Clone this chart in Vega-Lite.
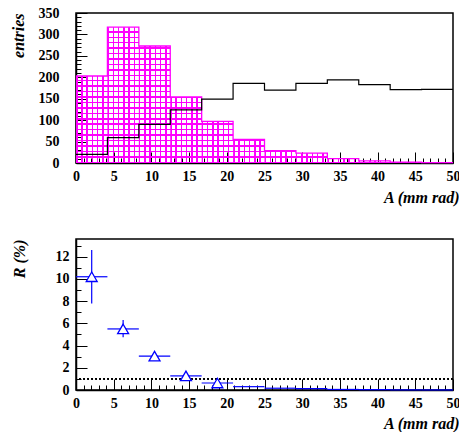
{
  "$schema": "https://vega.github.io/schema/vega-lite/v6.json",
  "background": "white",
  "padding": {"left": 9, "top": 5, "right": 0, "bottom": 0},
  "datasets": {
    "bins": [
      {"x0": 0, "x1": 4.1667, "xc": 2.0833, "sig": 203, "bg": 20, "R": 10.2, "Rlo": 7.8, "Rhi": 12.6},
      {"x0": 4.1667, "x1": 8.3333, "xc": 6.25, "sig": 317, "bg": 59, "R": 5.5, "Rlo": 4.75, "Rhi": 6.3},
      {"x0": 8.3333, "x1": 12.5, "xc": 10.4167, "sig": 273, "bg": 90, "R": 3.05, "Rlo": 2.7, "Rhi": 3.4},
      {"x0": 12.5, "x1": 16.6667, "xc": 14.5833, "sig": 154, "bg": 124, "R": 1.27, "Rlo": 1.1, "Rhi": 1.45},
      {"x0": 16.6667, "x1": 20.8333, "xc": 18.75, "sig": 97, "bg": 149, "R": 0.63, "Rlo": 0.54, "Rhi": 0.72},
      {"x0": 20.8333, "x1": 25, "xc": 22.9167, "sig": 55, "bg": 186, "R": 0.3, "Rlo": 0.26, "Rhi": 0.34},
      {"x0": 25, "x1": 29.1667, "xc": 27.0833, "sig": 29, "bg": 170, "R": 0.16, "Rlo": 0.13, "Rhi": 0.19},
      {"x0": 29.1667, "x1": 33.3333, "xc": 31.25, "sig": 23, "bg": 186, "R": 0.13, "Rlo": 0.1, "Rhi": 0.16},
      {"x0": 33.3333, "x1": 37.5, "xc": 35.4167, "sig": 10, "bg": 194, "R": 0.05, "Rlo": 0.03, "Rhi": 0.07},
      {"x0": 37.5, "x1": 41.6667, "xc": 39.5833, "sig": 5, "bg": 183, "R": 0.03, "Rlo": 0.02, "Rhi": 0.04},
      {"x0": 41.6667, "x1": 45.8333, "xc": 43.75, "sig": 2, "bg": 171, "R": 0.01, "Rlo": 0.0, "Rhi": 0.02},
      {"x0": 45.8333, "x1": 50, "xc": 47.9167, "sig": 1, "bg": 172, "R": 0.006, "Rlo": 0.0, "Rhi": 0.012}
    ]
  },
  "config": {
    "view": {"stroke": "black", "strokeWidth": 1.5},
    "axis": {
      "labelFont": "Liberation Serif", "labelFontWeight": "bold", "labelFontSize": 14, "labelColor": "black",
      "titleFont": "Liberation Serif", "titleFontWeight": "bold", "titleFontStyle": "italic", "titleFontSize": 16, "titleColor": "black",
      "domainColor": "black", "domainWidth": 1.5, "grid": false,
      "labelOverlap": false, "labelFlush": false, "tickCount": 100
    }
  },
  "spacing": 76,
  "bounds": "flush",
  "vconcat": [
    {
      "width": 377,
      "height": 150,
      "data": {"name": "bins"},
      "layer": [
        {
          "mark": {"type": "rect", "fill": {"gradient": "linear", "x1": 0, "y1": 0, "x2": 1, "y2": 0, "stops": [
            {"offset": 0, "color": "#ff00ff"}, {"offset": 0.048, "color": "#ff00ff"}, {"offset": 0.048, "color": "rgba(255,0,255,0)"},
            {"offset": 0.1667, "color": "rgba(255,0,255,0)"}, {"offset": 0.1667, "color": "#ff00ff"}, {"offset": 0.2147, "color": "#ff00ff"}, {"offset": 0.2147, "color": "rgba(255,0,255,0)"},
            {"offset": 0.3333, "color": "rgba(255,0,255,0)"}, {"offset": 0.3333, "color": "#ff00ff"}, {"offset": 0.3813, "color": "#ff00ff"}, {"offset": 0.3813, "color": "rgba(255,0,255,0)"},
            {"offset": 0.5, "color": "rgba(255,0,255,0)"}, {"offset": 0.5, "color": "#ff00ff"}, {"offset": 0.548, "color": "#ff00ff"}, {"offset": 0.548, "color": "rgba(255,0,255,0)"},
            {"offset": 0.6667, "color": "rgba(255,0,255,0)"}, {"offset": 0.6667, "color": "#ff00ff"}, {"offset": 0.7147, "color": "#ff00ff"}, {"offset": 0.7147, "color": "rgba(255,0,255,0)"},
            {"offset": 0.8333, "color": "rgba(255,0,255,0)"}, {"offset": 0.8333, "color": "#ff00ff"}, {"offset": 0.8813, "color": "#ff00ff"}, {"offset": 0.8813, "color": "rgba(255,0,255,0)"},
            {"offset": 1, "color": "rgba(255,0,255,0)"}
          ]}},
          "encoding": {
            "x": {"field": "x0", "type": "quantitative", "scale": {"domain": [0, 50], "nice": false},
              "axis": {
                "values": [0,1,2,3,4,5,6,7,8,9,10,11,12,13,14,15,16,17,18,19,20,21,22,23,24,25,26,27,28,29,30,31,32,33,34,35,36,37,38,39,40,41,42,43,44,45,46,47,48,49,50],
                "tickCount": 100, "format": "d",
                "labelExpr": "datum.value % 5 === 0 ? datum.label : ''",
                "ticks": true, "tickColor": "black", "tickWidth": 1,
                "tickSize": -11,
                "tickDash": {"condition": {"test": "datum.value % 5 === 0", "value": [20, 0]}, "value": [5, 20]},
                "labelPadding": 17,
                "title": "A (mm rad)", "titleAlign": "right", "titleBaseline": "middle", "titleX": 383, "titleY": 34
              }},
            "x2": {"field": "x1"},
            "y": {"field": "sig", "type": "quantitative", "scale": {"domain": [0, 350], "nice": false},
              "axis": {
                "values": [0,10,20,30,40,50,60,70,80,90,100,110,120,130,140,150,160,170,180,190,200,210,220,230,240,250,260,270,280,290,300,310,320,330,340,350],
                "tickCount": 100, "format": "d",
                "labelExpr": "datum.value % 50 === 0 ? datum.label : ''",
                "ticks": true, "tickColor": "black", "tickWidth": 1,
                "tickSize": -11,
                "tickDash": {"condition": {"test": "datum.value % 50 === 0", "value": [20, 0]}, "value": [5, 20]},
                "labelPadding": 28,
                "title": "entries", "titleAngle": -90, "titleAlign": "right", "titleBaseline": "middle", "titleX": -58, "titleY": 0
              }},
            "y2": {"datum": 0}
          }
        },
        {
          "transform": [{"fold": ["x0", "x1"], "as": ["edge", "A"]}],
          "mark": {"type": "area", "fill": {"gradient": "linear", "x1": 0, "y1": 1, "x2": 0, "y2": 0, "stops": [
            {"offset": 0, "color": "#ff00ff"}, {"offset": 0.011, "color": "#ff00ff"}, {"offset": 0.011, "color": "rgba(255,0,255,0)"},
            {"offset": 0.04, "color": "rgba(255,0,255,0)"}, {"offset": 0.04, "color": "#ff00ff"}, {"offset": 0.051, "color": "#ff00ff"}, {"offset": 0.051, "color": "rgba(255,0,255,0)"},
            {"offset": 0.08, "color": "rgba(255,0,255,0)"}, {"offset": 0.08, "color": "#ff00ff"}, {"offset": 0.091, "color": "#ff00ff"}, {"offset": 0.091, "color": "rgba(255,0,255,0)"},
            {"offset": 0.12, "color": "rgba(255,0,255,0)"}, {"offset": 0.12, "color": "#ff00ff"}, {"offset": 0.131, "color": "#ff00ff"}, {"offset": 0.131, "color": "rgba(255,0,255,0)"},
            {"offset": 0.16, "color": "rgba(255,0,255,0)"}, {"offset": 0.16, "color": "#ff00ff"}, {"offset": 0.171, "color": "#ff00ff"}, {"offset": 0.171, "color": "rgba(255,0,255,0)"},
            {"offset": 0.2, "color": "rgba(255,0,255,0)"}, {"offset": 0.2, "color": "#ff00ff"}, {"offset": 0.211, "color": "#ff00ff"}, {"offset": 0.211, "color": "rgba(255,0,255,0)"},
            {"offset": 0.24, "color": "rgba(255,0,255,0)"}, {"offset": 0.24, "color": "#ff00ff"}, {"offset": 0.251, "color": "#ff00ff"}, {"offset": 0.251, "color": "rgba(255,0,255,0)"},
            {"offset": 0.28, "color": "rgba(255,0,255,0)"}, {"offset": 0.28, "color": "#ff00ff"}, {"offset": 0.291, "color": "#ff00ff"}, {"offset": 0.291, "color": "rgba(255,0,255,0)"},
            {"offset": 0.32, "color": "rgba(255,0,255,0)"}, {"offset": 0.32, "color": "#ff00ff"}, {"offset": 0.331, "color": "#ff00ff"}, {"offset": 0.331, "color": "rgba(255,0,255,0)"},
            {"offset": 0.36, "color": "rgba(255,0,255,0)"}, {"offset": 0.36, "color": "#ff00ff"}, {"offset": 0.371, "color": "#ff00ff"}, {"offset": 0.371, "color": "rgba(255,0,255,0)"},
            {"offset": 0.4, "color": "rgba(255,0,255,0)"}, {"offset": 0.4, "color": "#ff00ff"}, {"offset": 0.411, "color": "#ff00ff"}, {"offset": 0.411, "color": "rgba(255,0,255,0)"},
            {"offset": 0.44, "color": "rgba(255,0,255,0)"}, {"offset": 0.44, "color": "#ff00ff"}, {"offset": 0.451, "color": "#ff00ff"}, {"offset": 0.451, "color": "rgba(255,0,255,0)"},
            {"offset": 0.48, "color": "rgba(255,0,255,0)"}, {"offset": 0.48, "color": "#ff00ff"}, {"offset": 0.491, "color": "#ff00ff"}, {"offset": 0.491, "color": "rgba(255,0,255,0)"},
            {"offset": 0.52, "color": "rgba(255,0,255,0)"}, {"offset": 0.52, "color": "#ff00ff"}, {"offset": 0.531, "color": "#ff00ff"}, {"offset": 0.531, "color": "rgba(255,0,255,0)"},
            {"offset": 0.56, "color": "rgba(255,0,255,0)"}, {"offset": 0.56, "color": "#ff00ff"}, {"offset": 0.571, "color": "#ff00ff"}, {"offset": 0.571, "color": "rgba(255,0,255,0)"},
            {"offset": 0.6, "color": "rgba(255,0,255,0)"}, {"offset": 0.6, "color": "#ff00ff"}, {"offset": 0.611, "color": "#ff00ff"}, {"offset": 0.611, "color": "rgba(255,0,255,0)"},
            {"offset": 0.64, "color": "rgba(255,0,255,0)"}, {"offset": 0.64, "color": "#ff00ff"}, {"offset": 0.651, "color": "#ff00ff"}, {"offset": 0.651, "color": "rgba(255,0,255,0)"},
            {"offset": 0.68, "color": "rgba(255,0,255,0)"}, {"offset": 0.68, "color": "#ff00ff"}, {"offset": 0.691, "color": "#ff00ff"}, {"offset": 0.691, "color": "rgba(255,0,255,0)"},
            {"offset": 0.72, "color": "rgba(255,0,255,0)"}, {"offset": 0.72, "color": "#ff00ff"}, {"offset": 0.731, "color": "#ff00ff"}, {"offset": 0.731, "color": "rgba(255,0,255,0)"},
            {"offset": 0.76, "color": "rgba(255,0,255,0)"}, {"offset": 0.76, "color": "#ff00ff"}, {"offset": 0.771, "color": "#ff00ff"}, {"offset": 0.771, "color": "rgba(255,0,255,0)"},
            {"offset": 0.8, "color": "rgba(255,0,255,0)"}, {"offset": 0.8, "color": "#ff00ff"}, {"offset": 0.811, "color": "#ff00ff"}, {"offset": 0.811, "color": "rgba(255,0,255,0)"},
            {"offset": 0.84, "color": "rgba(255,0,255,0)"}, {"offset": 0.84, "color": "#ff00ff"}, {"offset": 0.851, "color": "#ff00ff"}, {"offset": 0.851, "color": "rgba(255,0,255,0)"},
            {"offset": 0.88, "color": "rgba(255,0,255,0)"}, {"offset": 0.88, "color": "#ff00ff"}, {"offset": 0.891, "color": "#ff00ff"}, {"offset": 0.891, "color": "rgba(255,0,255,0)"},
            {"offset": 0.92, "color": "rgba(255,0,255,0)"}, {"offset": 0.92, "color": "#ff00ff"}, {"offset": 0.931, "color": "#ff00ff"}, {"offset": 0.931, "color": "rgba(255,0,255,0)"},
            {"offset": 0.96, "color": "rgba(255,0,255,0)"}, {"offset": 0.96, "color": "#ff00ff"}, {"offset": 0.971, "color": "#ff00ff"}, {"offset": 0.971, "color": "rgba(255,0,255,0)"},
            {"offset": 1, "color": "rgba(255,0,255,0)"}
          ]}},
          "encoding": {
            "x": {"field": "A", "type": "quantitative"},
            "y": {"field": "sig", "type": "quantitative", "stack": null},
            "order": {"value": null}
          }
        },
        {
          "transform": [{"fold": ["x0", "x1"], "as": ["edge", "A"]}],
          "mark": {"type": "line", "stroke": "#ff00ff", "strokeWidth": 1.3},
          "encoding": {
            "x": {"field": "A", "type": "quantitative"},
            "y": {"field": "sig", "type": "quantitative"},
            "order": {"value": null}
          }
        },
        {
          "transform": [{"fold": ["x0", "x1"], "as": ["edge", "A"]}],
          "mark": {"type": "line", "stroke": "black", "strokeWidth": 1.2},
          "encoding": {
            "x": {"field": "A", "type": "quantitative"},
            "y": {"field": "bg", "type": "quantitative"},
            "order": {"value": null}
          }
        }
      ]
    },
    {
      "width": 377,
      "height": 151,
      "data": {"name": "bins"},
      "layer": [
        {
          "mark": {"type": "rule", "stroke": "#0000ff", "strokeWidth": 1.2},
          "encoding": {
            "x": {"field": "x0", "type": "quantitative", "scale": {"domain": [0, 50], "nice": false},
              "axis": {
                "values": [0,1,2,3,4,5,6,7,8,9,10,11,12,13,14,15,16,17,18,19,20,21,22,23,24,25,26,27,28,29,30,31,32,33,34,35,36,37,38,39,40,41,42,43,44,45,46,47,48,49,50],
                "tickCount": 100, "format": "d",
                "labelExpr": "datum.value % 5 === 0 ? datum.label : ''",
                "ticks": true, "tickColor": "black", "tickWidth": 1,
                "tickSize": -11,
                "tickDash": {"condition": {"test": "datum.value % 5 === 0", "value": [20, 0]}, "value": [5, 20]},
                "labelPadding": 17,
                "title": "A (mm rad)", "titleAlign": "right", "titleBaseline": "middle", "titleX": 383, "titleY": 33
              }},
            "x2": {"field": "x1"},
            "y": {"field": "R", "type": "quantitative", "scale": {"domain": [0, 13.6], "nice": false},
              "axis": {
                "values": [0,0.5,1,1.5,2,2.5,3,3.5,4,4.5,5,5.5,6,6.5,7,7.5,8,8.5,9,9.5,10,10.5,11,11.5,12,12.5,13,13.5],
                "tickCount": 100, "format": "d",
                "labelExpr": "datum.value % 2 === 0 ? datum.label : ''",
                "ticks": true, "tickColor": "black", "tickWidth": 1,
                "tickSize": -11,
                "tickDash": {"condition": {"test": "datum.value % 2 === 0", "value": [20, 0]}, "value": [5, 20]},
                "labelPadding": 18,
                "title": "R (%)", "titleAngle": -90, "titleAlign": "right", "titleBaseline": "middle", "titleX": -57, "titleY": 0
              }}
          }
        },
        {
          "mark": {"type": "rule", "stroke": "black", "strokeWidth": 1, "strokeDash": [1.5, 2.5]},
          "encoding": {
            "y": {"datum": 1, "type": "quantitative"}
          }
        },
        {
          "mark": {"type": "rule", "stroke": "#0000ff", "strokeWidth": 1.2},
          "encoding": {
            "x": {"field": "xc", "type": "quantitative"},
            "y": {"field": "Rlo", "type": "quantitative"},
            "y2": {"field": "Rhi"}
          }
        },
        {
          "transform": [{"filter": "datum.xc < 20"}],
          "mark": {"type": "point", "shape": "triangle-up", "size": 120, "filled": true, "fill": "white", "stroke": "#0000ff", "strokeWidth": 1.3, "opacity": 1},
          "encoding": {
            "x": {"field": "xc", "type": "quantitative"},
            "y": {"field": "R", "type": "quantitative"}
          }
        }
      ]
    }
  ]
}
